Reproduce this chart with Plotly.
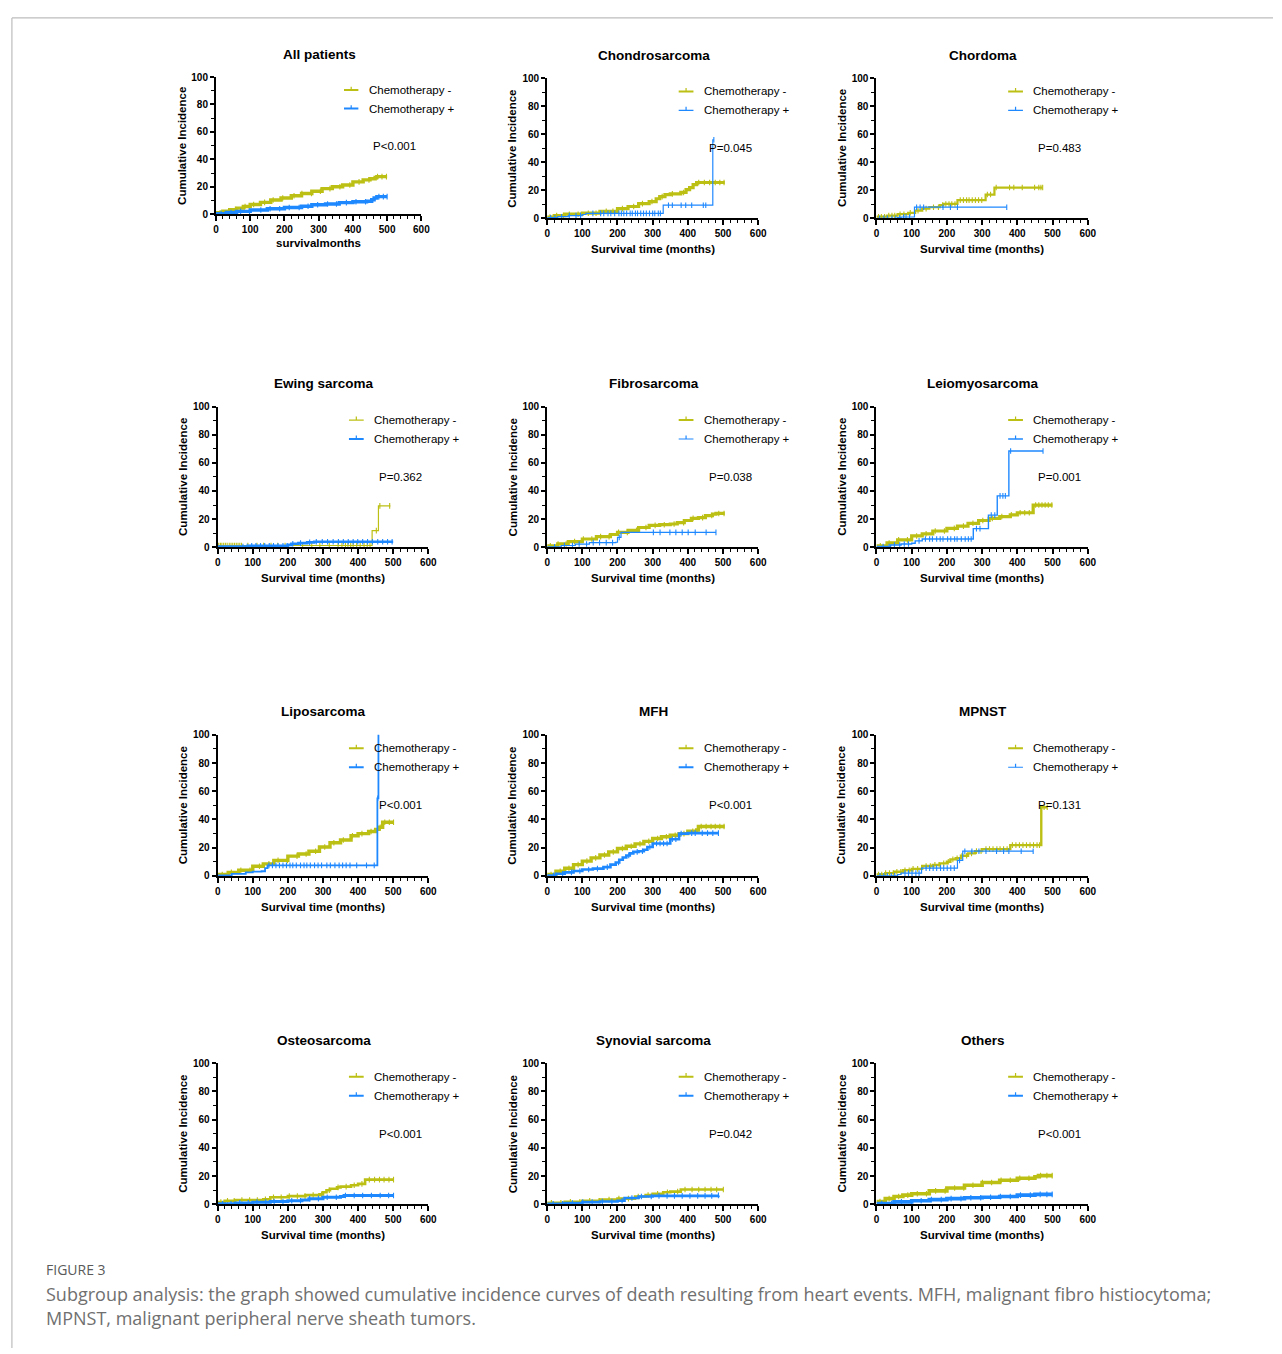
import numpy as np
import plotly.graph_objects as go

W, H = 1282, 1354

# ---------------------------------------------------------------- labels
PANEL_TITLES = ["All patients", "Chondrosarcoma", "Chordoma",
                "Ewing sarcoma", "Fibrosarcoma", "Leiomyosarcoma",
                "Liposarcoma", "MFH", "MPNST",
                "Osteosarcoma", "Synovial sarcoma", "Others"]
P_LABELS = ["P<0.001", "P=0.045", "P=0.483",
            "P=0.362", "P=0.038", "P=0.001",
            "P<0.001", "P<0.001", "P=0.131",
            "P<0.001", "P=0.042", "P<0.001"]
X_TITLES = ["survivalmonths"] + ["Survival time (months)"] * 11
Y_TITLE = "Cumulative Incidence"
SERIES_NAMES = ["Chemotherapy -", "Chemotherapy +"]
X_TICKS = [0, 100, 200, 300, 400, 500, 600]
Y_TICKS = [0, 20, 40, 60, 80, 100]

CAPTION_HEAD = "FIGURE 3"
CAPTION_L1 = ("Subgroup analysis: the graph showed cumulative incidence curves of death "
              "resulting from heart events. MFH, malignant fibro histiocytoma;")
CAPTION_L2 = "MPNST, malignant peripheral nerve sheath tumors."

# ---------------------------------------------------------------- data
# step times (months), cumulative incidence (%) after each step, censor times

all_neg_t = [0, 20, 40, 60, 80, 100, 130, 160, 190, 220, 250, 280, 310, 340, 370, 400, 430, 450, 465, 470, 500]
all_neg_ci = [1.0, 2.2, 3.3, 4.4, 5.6, 7.0, 8.6, 10.3, 11.8, 13.4, 15.0, 16.7, 18.6, 20.0, 21.3, 23.5, 25.0, 25.8, 26.7, 27.4, 27.4]
all_neg_cens = [12, 37, 58, 85, 110, 142, 167, 195, 228, 251, 279, 305, 333, 362, 391, 418, 447, 472, 485, 498]
all_pos_t = [0, 30, 60, 100, 150, 200, 250, 280, 320, 360, 400, 440, 455, 462, 470, 500]
all_pos_ci = [0.4, 1.2, 2.0, 3.0, 3.9, 4.8, 5.8, 6.8, 7.4, 8.4, 9.0, 9.4, 10.5, 11.8, 12.8, 12.8]
all_pos_cens = [15, 44, 72, 98, 131, 158, 186, 214, 243, 269, 297, 326, 352, 381, 409, 437, 476, 489, 500]

chon_neg_t = [0, 20, 50, 100, 150, 200, 230, 260, 290, 310, 320, 335, 350, 380, 395, 405, 415, 425, 505]
chon_neg_ci = [1.0, 2.0, 3.0, 3.7, 5.0, 7.0, 8.5, 10.5, 12.0, 14.0, 15.5, 17.0, 17.5, 18.5, 20.5, 22.0, 24.0, 25.6, 25.6]
chon_neg_cens = [8, 27, 46, 63, 88, 117, 139, 168, 187, 214, 246, 271, 298, 327, 356, 388, 431, 447, 462, 478, 491, 503]
chon_pos_t = [0, 30, 60, 100, 110, 330, 471, 474]
chon_pos_ci = [0.5, 1.2, 2.0, 2.8, 3.6, 9.4, 56.0, 56.0]
chon_pos_cens = [10, 22, 41, 63, 82, 95, 130, 152, 161, 173, 181, 192, 204, 211, 218, 226, 236, 242, 251,
                 257, 266, 274, 282, 291, 300, 306, 316, 322, 345, 356, 381, 394, 411, 444, 451, 474]

chor_neg_t = [0, 30, 60, 90, 110, 130, 150, 180, 190, 230, 310, 335, 472]
chor_neg_ci = [1.2, 2.0, 3.0, 4.0, 5.5, 7.0, 8.0, 9.5, 10.3, 13.0, 17.0, 22.0, 22.0]
chor_neg_cens = [6, 14, 23, 35, 44, 52, 67, 78, 96, 118, 141, 162, 176, 188, 197, 206, 214, 223, 238,
                 247, 256, 263, 272, 281, 290, 299, 315, 324, 340, 378, 390, 414, 449, 461, 467, 472]
chor_pos_t = [0, 60, 70, 105, 108, 370]
chor_pos_ci = [0.0, 0.5, 1.0, 1.0, 8.0, 8.0]
chor_pos_cens = [9, 21, 31, 44, 55, 66, 77, 84, 94, 114, 124, 134, 189, 210, 230, 370]

ewing_neg_t = [0, 440, 458, 492]
ewing_neg_ci = [1.2, 11.8, 29.4, 29.4]
ewing_neg_cens = [3, 8, 12, 17, 22, 27, 33, 38, 43, 48, 53, 58, 63, 68, 86, 112, 131, 152, 171, 192, 242,
                  268, 291, 318, 343, 354, 364, 371, 379, 386, 396, 406, 417, 426, 434, 452, 462, 490]
ewing_pos_t = [0, 90, 200, 210, 230, 255, 275, 500]
ewing_pos_ci = [0.4, 1.0, 1.6, 2.4, 2.9, 3.4, 3.9, 3.9]
ewing_pos_cens = [72, 84, 97, 109, 122, 134, 147, 159, 172, 186, 198, 214, 236, 262, 281, 298, 313, 329,
                  344, 358, 372, 386, 399, 413, 427, 441, 456, 470, 484, 497]

fib_neg_t = [0, 30, 60, 100, 140, 180, 200, 230, 260, 290, 320, 350, 370, 390, 410, 430, 450, 470, 480, 505]
fib_neg_ci = [1.0, 2.3, 4.0, 5.8, 7.5, 9.0, 10.5, 12.0, 14.0, 15.5, 16.0, 16.5, 17.5, 19.0, 20.5, 21.0, 22.5, 23.5, 24.0, 24.0]
fib_neg_cens = [9, 31, 54, 78, 103, 127, 152, 176, 203, 228, 254, 281, 307, 333, 361, 388, 415, 442, 468, 488, 503]
fib_pos_t = [0, 40, 80, 120, 195, 200, 210, 480]
fib_pos_ci = [0.3, 1.2, 2.2, 3.2, 3.5, 7.0, 10.5, 10.5]
fib_pos_cens = [21, 49, 72, 91, 112, 131, 149, 168, 186, 205, 302, 321, 349, 366, 384, 401, 421, 452, 480]

leio_neg_t = [0, 30, 60, 100, 130, 160, 200, 230, 260, 290, 320, 350, 380, 400, 445, 500]
leio_neg_ci = [1.0, 3.0, 5.2, 8.0, 9.5, 11.5, 13.4, 15.0, 17.0, 19.0, 20.5, 21.8, 23.0, 24.5, 30.0, 30.0]
leio_neg_cens = [11, 36, 63, 88, 114, 141, 167, 193, 221, 247, 274, 302, 329, 356, 383, 408, 421, 434,
                  452, 461, 470, 479, 488, 498]
leio_pos_t = [0, 40, 70, 100, 110, 130, 275, 318, 343, 376, 473]
leio_pos_ci = [0.5, 1.5, 2.2, 2.8, 4.5, 5.8, 13.2, 22.8, 36.5, 68.5, 68.5]
leio_pos_cens = [19, 36, 51, 66, 79, 91, 121, 139, 151, 159, 171, 181, 189, 202, 211, 222, 229, 241, 252,
                  261, 269, 284, 294, 326, 336, 351, 359, 366, 381, 473]

lipo_neg_t = [0, 30, 60, 100, 130, 160, 200, 230, 260, 290, 320, 350, 380, 400, 430, 450, 460, 470, 502]
lipo_neg_ci = [1.0, 2.5, 4.0, 6.8, 8.5, 11.0, 14.0, 15.5, 17.5, 20.5, 23.5, 25.5, 28.5, 30.0, 31.5, 33.0, 34.5, 38.0, 38.0]
lipo_neg_cens = [13, 39, 66, 92, 119, 146, 172, 199, 226, 252, 279, 305, 331, 358, 384, 411, 437, 463, 476, 489, 501]
lipo_pos_t = [0, 40, 80, 100, 125, 135, 142, 455, 458, 460]
lipo_pos_ci = [0.4, 1.5, 2.5, 3.0, 3.3, 5.5, 7.5, 55.0, 100.0, 100.0]
lipo_pos_cens = [146, 156, 166, 176, 186, 196, 206, 214, 224, 236, 246, 254, 264, 276, 286, 296, 311,
                  321, 334, 346, 356, 366, 377, 396, 424, 446, 456]

mfh_neg_t = [0, 25, 50, 75, 100, 125, 150, 175, 200, 225, 250, 275, 300, 325, 350, 375, 400, 425, 430, 505]
mfh_neg_ci = [1.0, 3.3, 5.4, 8.0, 10.5, 12.8, 14.8, 17.0, 19.4, 21.0, 22.7, 24.5, 26.5, 27.8, 28.8, 30.0, 31.6, 32.5, 35.0, 35.0]
mfh_neg_cens = [11, 37, 62, 88, 113, 138, 163, 188, 214, 239, 264, 289, 314, 339, 364, 389, 414, 438,
                 452, 466, 478, 491, 503]
mfh_pos_t = [0, 25, 50, 75, 100, 130, 160, 180, 195, 205, 215, 225, 235, 245, 260, 275, 285, 300, 350, 375, 400, 487]
mfh_pos_ci = [0.3, 1.5, 2.5, 3.5, 4.5, 5.2, 6.2, 8.0, 9.5, 11.5, 13.0, 14.5, 16.0, 17.0, 17.5, 18.5, 20.5, 23.0, 26.0, 30.0, 30.3, 30.3]
mfh_pos_cens = [18, 44, 69, 93, 118, 143, 171, 203, 232, 256, 271, 292, 311, 321, 331, 341, 356, 366,
                 381, 411, 421, 441, 456, 471, 487]

mpn_neg_t = [0, 25, 50, 75, 100, 130, 160, 180, 200, 210, 225, 240, 260, 280, 300, 380, 468, 485]
mpn_neg_ci = [1.0, 2.0, 3.0, 4.0, 5.0, 7.0, 7.8, 8.9, 10.0, 11.7, 12.5, 14.3, 16.0, 17.6, 19.0, 21.8, 48.7, 48.7]
mpn_neg_cens = [6, 15, 26, 37, 48, 58, 69, 81, 93, 104, 117, 128, 141, 153, 166, 178, 191, 204, 217,
                 229, 243, 256, 270, 284, 297, 311, 321, 331, 342, 351, 361, 371, 386, 396, 406, 416,
                 426, 436, 446, 456, 463, 476, 485]
mpn_pos_t = [0, 60, 70, 128, 230, 245, 445]
mpn_pos_ci = [0.0, 1.0, 2.0, 5.5, 11.0, 17.5, 17.5]
mpn_pos_cens = [10, 21, 31, 42, 52, 81, 91, 101, 112, 121, 141, 151, 161, 171, 182, 191, 201, 211, 221,
                 236, 251, 271, 291, 311, 341, 361, 376, 411, 445]

ost_neg_t = [0, 20, 50, 130, 150, 200, 250, 290, 300, 310, 320, 340, 350, 380, 400, 420, 502]
ost_neg_ci = [1.5, 2.5, 3.0, 3.5, 5.0, 5.8, 6.5, 7.0, 8.5, 10.0, 11.0, 12.0, 12.5, 13.5, 14.5, 17.5, 17.5]
ost_neg_cens = [9, 28, 47, 69, 91, 113, 136, 159, 181, 204, 227, 249, 272, 296, 318, 343, 366, 389,
                 411, 432, 447, 461, 474, 488, 501]
ost_pos_t = [0, 50, 100, 150, 200, 240, 260, 300, 350, 360, 502]
ost_pos_ci = [0.3, 1.0, 1.5, 2.0, 2.5, 3.0, 4.0, 5.0, 5.5, 6.2, 6.2]
ost_pos_cens = [14, 38, 63, 87, 112, 137, 161, 186, 211, 236, 262, 287, 312, 338, 364, 389, 413, 438,
                 463, 487, 501]

syn_neg_t = [0, 50, 100, 150, 200, 250, 280, 300, 330, 350, 380, 501]
syn_neg_ci = [1.0, 1.8, 2.5, 3.3, 4.0, 5.5, 6.5, 7.5, 8.5, 9.0, 10.5, 10.5]
syn_neg_cens = [12, 39, 66, 93, 121, 148, 176, 204, 231, 259, 287, 314, 342, 371, 392, 412, 431,
                 449, 466, 482, 501]
syn_pos_t = [0, 50, 100, 150, 200, 220, 260, 300, 487]
syn_pos_ci = [0.3, 0.8, 1.5, 2.0, 2.5, 4.5, 5.5, 6.0, 6.3]
syn_pos_cens = [17, 44, 72, 101, 128, 157, 184, 213, 241, 268, 296, 318, 341, 362, 384, 406, 428,
                 449, 468, 487]

oth_neg_t = [0, 25, 50, 75, 100, 150, 200, 250, 300, 350, 400, 450, 460, 500]
oth_neg_ci = [2.0, 4.0, 5.5, 6.5, 7.5, 9.5, 11.5, 13.5, 15.5, 17.0, 18.5, 19.5, 20.3, 20.3]
oth_neg_cens = [10, 36, 63, 89, 116, 142, 168, 195, 222, 248, 274, 301, 327, 354, 380, 407, 433, 466, 484, 499]
oth_pos_t = [0, 50, 100, 150, 200, 250, 300, 350, 400, 450, 500]
oth_pos_ci = [0.5, 1.7, 2.5, 3.3, 4.0, 4.6, 5.0, 5.5, 6.5, 7.0, 7.0]
oth_pos_cens = [15, 43, 71, 99, 127, 156, 184, 212, 240, 268, 296, 324, 352, 380, 409, 437, 465, 484, 499]

PANEL_DATA = [
    ((all_neg_t, all_neg_ci, all_neg_cens), (all_pos_t, all_pos_ci, all_pos_cens)),
    ((chon_neg_t, chon_neg_ci, chon_neg_cens), (chon_pos_t, chon_pos_ci, chon_pos_cens)),
    ((chor_neg_t, chor_neg_ci, chor_neg_cens), (chor_pos_t, chor_pos_ci, chor_pos_cens)),
    ((ewing_neg_t, ewing_neg_ci, ewing_neg_cens), (ewing_pos_t, ewing_pos_ci, ewing_pos_cens)),
    ((fib_neg_t, fib_neg_ci, fib_neg_cens), (fib_pos_t, fib_pos_ci, fib_pos_cens)),
    ((leio_neg_t, leio_neg_ci, leio_neg_cens), (leio_pos_t, leio_pos_ci, leio_pos_cens)),
    ((lipo_neg_t, lipo_neg_ci, lipo_neg_cens), (lipo_pos_t, lipo_pos_ci, lipo_pos_cens)),
    ((mfh_neg_t, mfh_neg_ci, mfh_neg_cens), (mfh_pos_t, mfh_pos_ci, mfh_pos_cens)),
    ((mpn_neg_t, mpn_neg_ci, mpn_neg_cens), (mpn_pos_t, mpn_pos_ci, mpn_pos_cens)),
    ((ost_neg_t, ost_neg_ci, ost_neg_cens), (ost_pos_t, ost_pos_ci, ost_pos_cens)),
    ((syn_neg_t, syn_neg_ci, syn_neg_cens), (syn_pos_t, syn_pos_ci, syn_pos_cens)),
    ((oth_neg_t, oth_neg_ci, oth_neg_cens), (oth_pos_t, oth_pos_ci, oth_pos_cens)),
]

# ---------------------------------------------------------------- styling
COLORS = ["#BCBF14", "#1E88FF"]
# line widths (chemo -, chemo +) per panel; dense censoring reads as a heavier line
LINE_W = [(3.4, 3.4), (3.2, 1.2), (2.2, 1.2),
          (1.2, 2.6), (3.2, 1.2), (3.2, 1.4),
          (3.4, 1.8), (3.4, 2.6), (2.4, 1.2),
          (2.6, 3.0), (2.6, 2.6), (3.6, 3.6)]

# axes boxes in pixels: (left, right), (top, bottom)
COL_X = [(216.7, 429.3), (549.3, 762.3), (881.7, 1095.0)]
ROW_Y = [(72.7, 214.3), (404.3, 546.0), (735.3, 877.7), (1066.7, 1209.0)]


def px_x(v):
    return v / W


def px_y(v):
    return 1 - v / H


def box(i):
    if i == 0:
        return (215.0, 422.3, 71.7, 210.0)
    c, r = i % 3, i // 3
    return (COL_X[c][0], COL_X[c][1], ROW_Y[r][0], ROW_Y[r][1])


def step_value(t, ci, at):
    t = np.asarray(t, float)
    ci = np.asarray(ci, float)
    idx = np.clip(np.searchsorted(t, np.asarray(at, float), side="right") - 1, 0, len(t) - 1)
    return ci[idx]


BOLD = dict(family="Arial, Liberation Sans, sans-serif", color="black", weight="bold")
REG = dict(family="Arial, Liberation Sans, sans-serif", color="black")

fig = go.Figure()
annotations = []
shapes = []
layout = {}

for i in range(12):
    n = i + 1
    xa, ya = f"x{n}", f"y{n}"
    l, r, t, b = box(i)

    layout[f"xaxis{n}"] = dict(
        domain=[px_x(l), px_x(r)], anchor=ya, range=[0, 600],
        tickmode="linear", tick0=0, dtick=100,
        showline=True, linecolor="black", linewidth=2,
        ticks="outside", ticklen=5, tickwidth=1.5, tickcolor="black",
        minor=dict(tick0=0, dtick=20, ticks="outside", ticklen=3, tickwidth=1, tickcolor="black"),
        showgrid=False, zeroline=False, fixedrange=True,
        tickfont=dict(size=10, **BOLD),
    )
    layout[f"yaxis{n}"] = dict(
        domain=[px_y(b), px_y(t)], anchor=xa, range=[0, 100],
        tickmode="linear", tick0=0, dtick=20,
        showline=True, linecolor="black", linewidth=2,
        ticks="outside", ticklen=4, tickwidth=1.5, tickcolor="black",
        minor=dict(tick0=0, dtick=10, ticks="outside", ticklen=3, tickwidth=1, tickcolor="black"),
        showgrid=False, zeroline=False, fixedrange=True,
        tickfont=dict(size=10, **BOLD),
    )

    for s, (times, ci, cens) in enumerate(PANEL_DATA[i]):
        fig.add_trace(go.Scatter(
            x=times, y=ci, mode="lines", line=dict(color=COLORS[s], width=LINE_W[i][s], shape="hv"),
            xaxis=xa, yaxis=ya, showlegend=False, hoverinfo="skip", name=SERIES_NAMES[s],
        ))
        fig.add_trace(go.Scatter(
            x=cens, y=step_value(times, ci, cens), mode="markers",
            marker=dict(symbol="line-ns", size=4, color=COLORS[s],
                        line=dict(color=COLORS[s], width=1.1)),
            xaxis=xa, yaxis=ya, showlegend=False, hoverinfo="skip", name=SERIES_NAMES[s],
        ))

        # legend entry: short line with a censor tick, followed by the label
        ly = 90.5 if s == 0 else 77.0
        shapes.append(dict(type="line", xref=xa, yref=ya, x0=374, x1=416, y0=ly, y1=ly,
                           line=dict(color=COLORS[s], width=min(LINE_W[i][s], 2.0))))
        shapes.append(dict(type="line", xref=xa, yref=ya, x0=395, x1=395, y0=ly, y1=ly + 2.5,
                           line=dict(color=COLORS[s], width=1.2)))
        annotations.append(dict(text=SERIES_NAMES[s], xref=xa, yref=ya, x=440, y=ly,
                                xanchor="left", yanchor="middle", showarrow=False,
                                font=dict(size=11.5, **REG)))

    annotations.append(dict(text=P_LABELS[i], xref=xa, yref=ya, x=521, y=50,
                            xanchor="center", yanchor="middle", showarrow=False,
                            font=dict(size=11.5, **REG)))
    annotations.append(dict(text=PANEL_TITLES[i], xref="paper", yref="paper",
                            x=px_x((l + r) / 2 + 1), y=px_y(t - 23),
                            xanchor="center", yanchor="middle", showarrow=False,
                            font=dict(size=13.5, **BOLD)))
    annotations.append(dict(text=Y_TITLE, xref="paper", yref="paper",
                            x=px_x(l - 35), y=px_y((t + b) / 2), textangle=-90,
                            xanchor="center", yanchor="middle", showarrow=False,
                            font=dict(size=11.5, **BOLD)))
    annotations.append(dict(text=X_TITLES[i], xref="paper", yref="paper",
                            x=px_x((l + r) / 2), y=px_y(b + (29 if i == 0 else 31)),
                            xanchor="center", yanchor="middle", showarrow=False,
                            font=dict(size=11.5, **BOLD)))

# caption
CAP_FONT = "Open Sans, Lato, sans-serif"
annotations.append(dict(text=CAPTION_HEAD, xref="paper", yref="paper", x=px_x(41), y=px_y(1275),
                        xanchor="left", yanchor="middle", showarrow=False,
                        font=dict(family=CAP_FONT, size=14, color="#5a5a5a")))
annotations.append(dict(text=CAPTION_L1, xref="paper", yref="paper", x=px_x(41), y=px_y(1300),
                        xanchor="left", yanchor="middle", showarrow=False,
                        font=dict(family=CAP_FONT, size=18, color="#707070")))
annotations.append(dict(text=CAPTION_L2, xref="paper", yref="paper", x=px_x(41), y=px_y(1324),
                        xanchor="left", yanchor="middle", showarrow=False,
                        font=dict(family=CAP_FONT, size=18, color="#707070")))

# page frame
shapes.append(dict(type="line", xref="paper", yref="paper", x0=px_x(9), x1=1, y0=px_y(12), y1=px_y(12),
                   line=dict(color="#bdbdbd", width=1.2)))
shapes.append(dict(type="line", xref="paper", yref="paper", x0=px_x(9), x1=px_x(9), y0=px_y(12), y1=0,
                   line=dict(color="#bdbdbd", width=1.2)))

fig.update_layout(
    width=W, height=H, margin=dict(l=0, r=0, t=0, b=0),
    paper_bgcolor="white", plot_bgcolor="white",
    showlegend=False, annotations=annotations, shapes=shapes, **layout,
)

fig.write_html("out.html")
